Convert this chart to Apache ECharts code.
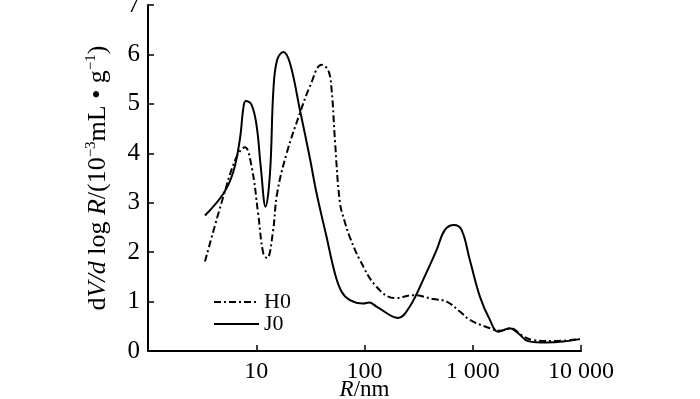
<!DOCTYPE html>
<html>
<head>
<meta charset="utf-8">
<script src="https://cdn.jsdelivr.net/npm/echarts@6/dist/echarts.min.js"></script>
<style>
html,body{margin:0;padding:0;background:#fff;}
#main{width:700px;height:399px;}
</style>
</head>
<body>
<div id="main"></div>
<script>
// Data (R in nm, dV/dlogR)
const seriesNames = ['H0', 'J0'];
const h0R = [3.36, 4.96, 6.59, 7.85, 9.06, 10.4, 11.6, 12.6, 14.2, 15.6, 19.1, 25.3, 31.3, 40.2, 46.2, 49.7, 53.3, 59.3, 66, 73.3, 90.7, 129, 191, 282, 431, 573, 760, 940, 1440, 1780, 2280, 2820, 3610, 5520, 9750];
const h0V = [1.81, 3.12, 3.93, 4.12, 3.73, 2.79, 1.98, 1.88, 2.38, 3.19, 4.0, 4.81, 5.35, 5.79, 5.68, 5.28, 4.27, 3.0, 2.6, 2.3, 1.84, 1.3, 1.07, 1.13, 1.05, 1.0, 0.8, 0.63, 0.46, 0.41, 0.46, 0.32, 0.22, 0.2, 0.24];
const j0R = [3.36, 4.96, 6.13, 7.08, 7.6, 8.0, 9.06, 10.1, 11.0, 12.2, 13.4, 14.4, 15.6, 17.8, 20.5, 25.3, 31.3, 36, 44.7, 53.3, 61.5, 73.3, 97.3, 110.6, 129, 205, 262, 348, 463, 553, 670, 788, 940, 1164, 1440, 1718, 2203, 2630, 3250, 4800, 6840, 9750];
const j0V = [2.74, 3.18, 3.62, 4.3, 4.92, 5.06, 4.98, 4.54, 3.73, 2.92, 3.6, 5.28, 5.89, 6.05, 5.82, 4.88, 3.9, 3.2, 2.3, 1.57, 1.2, 1.03, 0.96, 0.98, 0.9, 0.67, 0.9, 1.44, 2.04, 2.45, 2.55, 2.45, 1.84, 1.1, 0.63, 0.39, 0.46, 0.36, 0.2, 0.17, 0.19, 0.24];
const xTicks = [1, 10, 100, 1000, 10000];
const xTickLabels = ['', '10', '100', '1 000', '10 000'];
const yTicks = [0, 1, 2, 3, 4, 5, 6, 7];

const FONT = 'Liberation Serif';
const pairs = (xs, ys) => xs.map((x, i) => [x, ys[i]]);

const chart = echarts.init(document.getElementById('main'), null, {renderer: 'canvas'});
chart.setOption({
  animation: false,
  backgroundColor: '#fff',
  grid: {left: 148, top: 5, right: 119, bottom: 48, containLabel: false, outerBoundsMode: 'none'},
  legend: {
    orient: 'vertical',
    left: 208,
    top: 286,
    itemWidth: 45,
    itemHeight: 14,
    itemGap: 0,
    data: seriesNames,
    itemStyle: {opacity: 0},
    textStyle: {fontFamily: FONT, fontSize: 22, color: '#000'}
  },
  xAxis: {
    type: 'log',
    logBase: 10,
    min: xTicks[0],
    max: xTicks[xTicks.length - 1],
    name: '{i|R}{n|/nm}',
    nameLocation: 'middle',
    nameGap: 27,
    nameMoveOverlap: false,
    nameTextStyle: {
      rich: {
        i: {fontFamily: FONT, fontSize: 23, fontStyle: 'italic', color: '#000'},
        n: {fontFamily: FONT, fontSize: 23, color: '#000'}
      }
    },
    axisLine: {lineStyle: {color: '#000', width: 2}},
    axisTick: {inside: true, length: 6, lineStyle: {color: '#000', width: 1.5}},
    axisLabel: {
      margin: 9,
      fontFamily: FONT, fontSize: 24, color: '#000',
      formatter: v => { const k = xTicks.findIndex(t => Math.abs(t - v) < 1e-6 * t); return k >= 0 ? xTickLabels[k] : ''; }
    },
    splitLine: {show: false}
  },
  yAxis: {
    type: 'value',
    min: yTicks[0],
    max: yTicks[yTicks.length - 1],
    interval: 1,
    name: '{n|d}{i|V/d}{n| log }{i|R}{n|/(10}{s|−3}{n|mL • g}{s|−1}{n|)}',
    nameLocation: 'middle',
    nameGap: 36,
    nameMoveOverlap: false,
    nameRotate: 90,
    nameTextStyle: {
      rich: {
        n: {fontFamily: FONT, fontSize: 26, color: '#000', lineHeight: 28},
        i: {fontFamily: FONT, fontSize: 26, fontStyle: 'italic', color: '#000', lineHeight: 28},
        s: {fontFamily: FONT, fontSize: 15, color: '#000', lineHeight: 15, verticalAlign: 'top'}
      }
    },
    axisLine: {show: true, lineStyle: {color: '#000', width: 2}},
    axisTick: {show: true, inside: true, length: 6, lineStyle: {color: '#000', width: 1.5}},
    axisLabel: {margin: 8, fontFamily: FONT, fontSize: 25, color: '#000'},
    splitLine: {show: false}
  },
  series: [
    {
      name: seriesNames[0],
      type: 'line',
      data: pairs(h0R, h0V),
      smooth: 0.4,
      showSymbol: false,
      symbol: 'none',
      lineStyle: {color: '#000', width: 2, type: [7, 3, 2, 3]},
      itemStyle: {color: '#000'}
    },
    {
      name: seriesNames[1],
      type: 'line',
      data: pairs(j0R, j0V),
      smooth: 0.4,
      showSymbol: false,
      symbol: 'none',
      lineStyle: {color: '#000', width: 2, type: 'solid'},
      itemStyle: {color: '#000'}
    }
  ]
});
</script>
</body>
</html>
